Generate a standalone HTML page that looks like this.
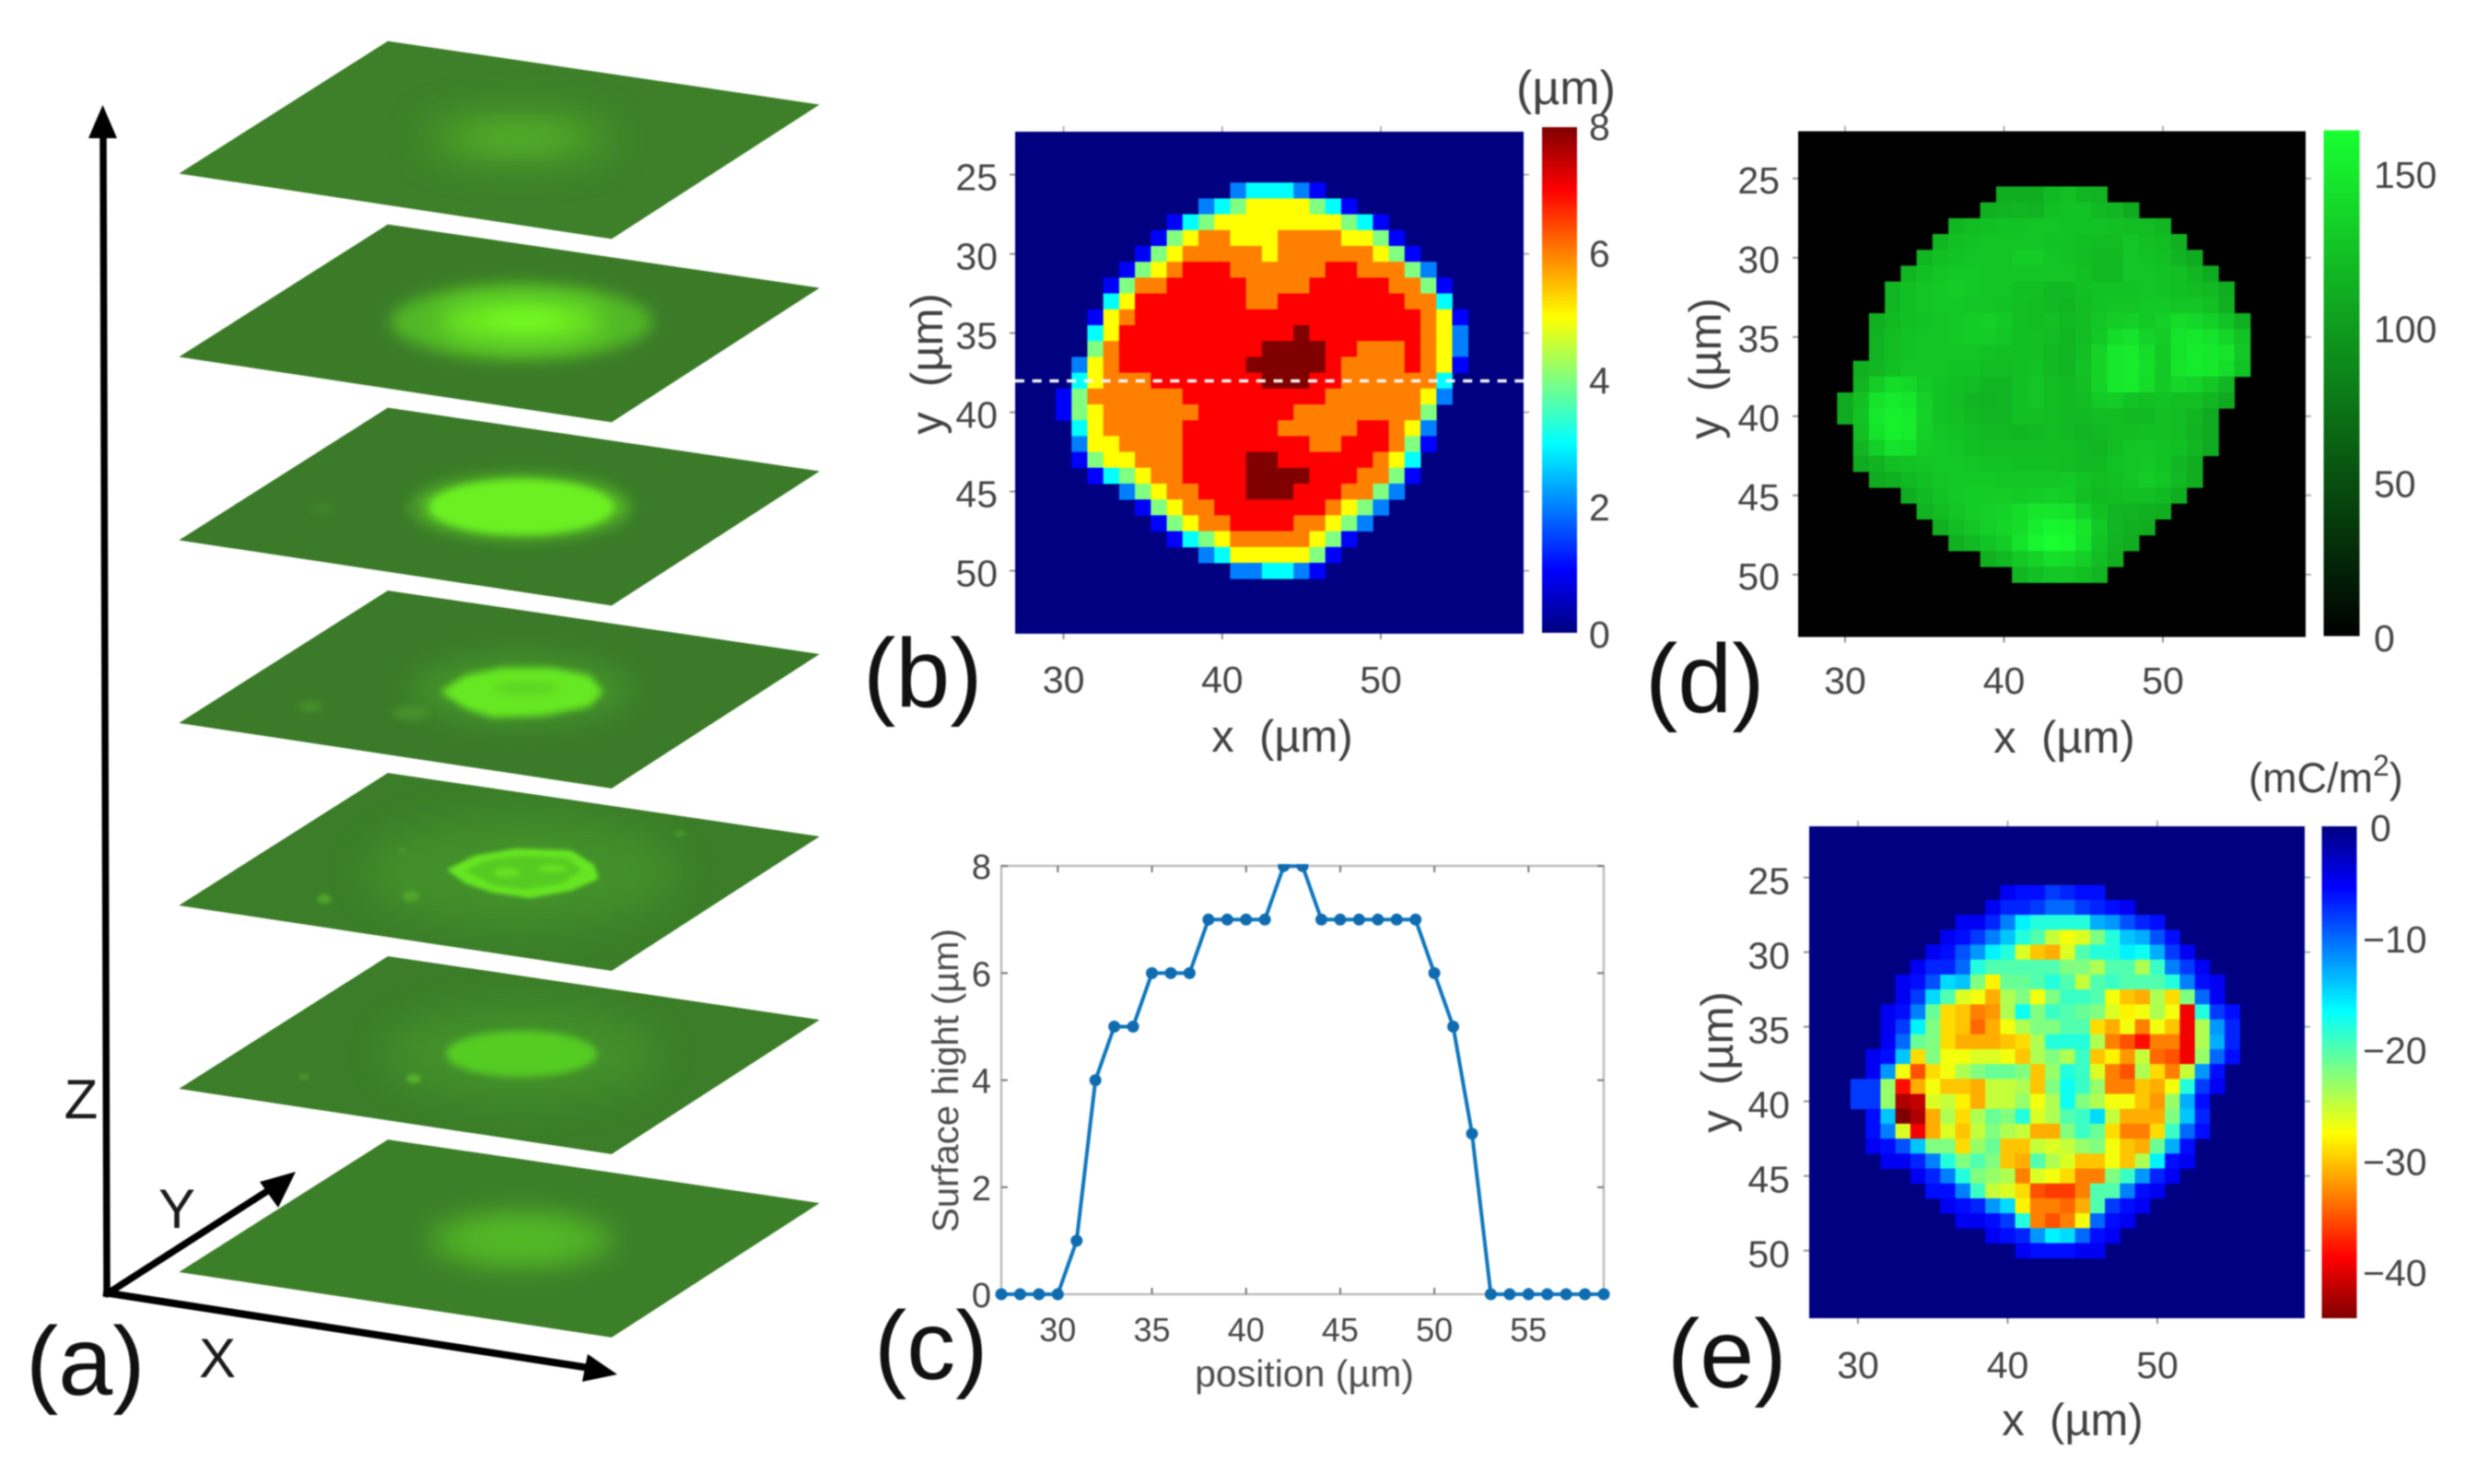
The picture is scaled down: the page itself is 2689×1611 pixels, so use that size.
<!DOCTYPE html>
<html lang="en">
<head>
<meta charset="utf-8">
<title>Surface height and charge density maps</title>
<style>
html,body{margin:0;padding:0;background:#fff;width:2689px;height:1611px;overflow:hidden}
svg{display:block;filter:blur(0.8px)}
text{font-family:"Liberation Sans",sans-serif}
.big{font-size:106px;fill:#111}
.ax{font-size:49px;fill:#404040}
.axl{font-size:60px;fill:#1a1a1a}
</style>
</head>
<body>
<svg id="root" xmlns="http://www.w3.org/2000/svg" width="2689" height="1611" viewBox="0 0 2689 1611">
<defs>
<clipPath id="planeClip"><polygon points="421,0 890,69 664,215 194,144"/></clipPath>
<clipPath id="cPlotClip"><rect x="1070" y="938" width="690" height="490"/></clipPath>
<filter id="b2" x="-50%" y="-50%" width="200%" height="200%"><feGaussianBlur stdDeviation="2"/></filter>
<filter id="b4" x="-50%" y="-50%" width="200%" height="200%"><feGaussianBlur stdDeviation="4"/></filter>
<filter id="b8" x="-50%" y="-50%" width="200%" height="200%"><feGaussianBlur stdDeviation="8"/></filter>
<filter id="b14" x="-60%" y="-80%" width="220%" height="260%"><feGaussianBlur stdDeviation="14"/></filter>
<filter id="b20" x="-60%" y="-100%" width="220%" height="300%"><feGaussianBlur stdDeviation="20"/></filter>
</defs>
<rect x="0" y="0" width="2689" height="1611" fill="#ffffff"/>

<g id="panel-a">
  <g transform="translate(0,44.5)" clip-path="url(#planeClip)">
    <polygon points="421,0 890,69 664,215 194,144" fill="#3d8029"/>
    <ellipse cx="563" cy="105" rx="100" ry="26" fill="#4ca527" filter="url(#b20)"/>
    <ellipse cx="563" cy="105" rx="55" ry="10" fill="#55b029" filter="url(#b14)"/>
  </g>
  <g transform="translate(0,243.5)" clip-path="url(#planeClip)">
    <polygon points="421,0 890,69 664,215 194,144" fill="#3b7b28"/>
    <ellipse cx="566" cy="106" rx="142" ry="41" fill="#51b726" filter="url(#b8)"/>
    <ellipse cx="566" cy="105" rx="88" ry="24" fill="#6eee22" filter="url(#b14)"/>
    <ellipse cx="570" cy="104" rx="40" ry="10" fill="#72f820" filter="url(#b8)"/>
  </g>
  <g transform="translate(0,442.5)" clip-path="url(#planeClip)">
    <polygon points="421,0 890,69 664,215 194,144" fill="#3a7a28"/>
    <ellipse cx="566" cy="108" rx="118" ry="35" fill="#52b825" filter="url(#b8)"/>
    <ellipse cx="566" cy="108" rx="100" ry="30" fill="#6cf020" filter="url(#b4)"/>
    <ellipse cx="448" cy="110" rx="10" ry="5" fill="#468f2c" filter="url(#b4)"/>
    <ellipse cx="350" cy="110" rx="14" ry="5" fill="#40842a" filter="url(#b4)"/>
  </g>
  <g transform="translate(0,641)" clip-path="url(#planeClip)">
    <polygon points="421,0 890,69 664,215 194,144" fill="#3a7a28"/>
    <ellipse cx="566" cy="108" rx="120" ry="40" fill="#42902a" filter="url(#b14)"/>
    <polygon points="478,110 505,92 545,84 600,84 640,92 655,110 640,126 590,136 535,138 505,128" fill="#66e822" filter="url(#b4)"/>
    <ellipse cx="572" cy="106" rx="36" ry="8" fill="#5ed823" filter="url(#b4)"/>
    <ellipse cx="337" cy="126" rx="14" ry="5" fill="#46912c" filter="url(#b4)"/>
    <ellipse cx="446" cy="133" rx="20" ry="8" fill="#46912c" filter="url(#b4)"/>
  </g>
  <g transform="translate(0,839)" clip-path="url(#planeClip)">
    <polygon points="421,0 890,69 664,215 194,144" fill="#3b7d28"/>
    <ellipse cx="566" cy="108" rx="170" ry="60" fill="#429029" filter="url(#b20)"/>
    <polygon points="485,105 515,90 560,82 620,84 645,100 650,115 620,128 575,136 535,130 505,120" fill="#66e622" filter="url(#b2)"/>
    <polygon points="505,106 530,94 565,90 615,92 632,106 610,120 570,127 535,122" fill="#56cc24" filter="url(#b2)"/>
    <ellipse cx="550" cy="108" rx="14" ry="5" fill="#66e022" filter="url(#b2)"/>
    <ellipse cx="600" cy="104" rx="16" ry="4" fill="#66e022" filter="url(#b2)"/>
    <ellipse cx="352" cy="137" rx="8" ry="5" fill="#50a62c" filter="url(#b2)"/>
    <ellipse cx="446" cy="134" rx="9" ry="6" fill="#50a62c" filter="url(#b2)"/>
    <ellipse cx="437" cy="84" rx="5" ry="3" fill="#469a2c" filter="url(#b2)"/>
    <ellipse cx="738" cy="66" rx="6" ry="3" fill="#469a2c" filter="url(#b2)"/>
  </g>
  <g transform="translate(0,1038)" clip-path="url(#planeClip)">
    <polygon points="421,0 890,69 664,215 194,144" fill="#3b7d28"/>
    <ellipse cx="566" cy="106" rx="150" ry="52" fill="#42902a" filter="url(#b20)"/>
    <ellipse cx="566" cy="106" rx="82" ry="25" fill="#55cc24" filter="url(#b4)"/>
    <ellipse cx="449" cy="133" rx="8" ry="5" fill="#55b02c" filter="url(#b2)"/>
    <ellipse cx="330" cy="131" rx="6" ry="3" fill="#4c9d2c" filter="url(#b2)"/>
  </g>
  <g transform="translate(0,1237)" clip-path="url(#planeClip)">
    <polygon points="421,0 890,69 664,215 194,144" fill="#3c7f29"/>
    <ellipse cx="566" cy="109" rx="100" ry="30" fill="#4fb028" filter="url(#b14)"/>
    <ellipse cx="566" cy="108" rx="60" ry="14" fill="#52bb26" filter="url(#b14)"/>
  </g>
  <g>
    <line x1="116" y1="1408" x2="112" y2="146" stroke="#000" stroke-width="7.5"/>
    <polygon points="111.5,114 96,150 127,150" fill="#000"/>
    <line x1="114" y1="1406" x2="298" y2="1288" stroke="#000" stroke-width="7.5"/>
    <polygon points="321,1272 282,1283 302,1311" fill="#000"/>
    <line x1="112" y1="1403" x2="640" y2="1485" stroke="#000" stroke-width="8"/>
    <polygon points="670,1492 638,1470 632,1500" fill="#000"/>
  </g>
  <text class="axl" x="88" y="1214" text-anchor="middle">Z</text>
  <text class="axl" x="192" y="1333" text-anchor="middle">Y</text>
  <text class="axl" x="236" y="1495" text-anchor="middle">X</text>
  <text class="big" x="28" y="1514">(a)</text>
</g>

<g id="panel-b"></g>
<g id="panel-c"></g>
<g id="panel-d"></g>
<g id="panel-e"></g>

<text class="big" x="937" y="767">(b)</text>
<text class="big" x="949" y="1497">(c)</text>
<text class="big" x="1786" y="773">(d)</text>
<text class="big" x="1810" y="1506">(e)</text>

<text class="ax" x="1392" y="816" text-anchor="middle" xml:space="preserve">x  (µm)</text>
<text class="ax" transform="translate(1023,395) rotate(-90)" text-anchor="middle" xml:space="preserve">y  (µm)</text>
<text class="ax" style="font-size:52px" x="1700" y="113" text-anchor="middle">(µm)</text>

<text class="ax" style="font-size:41px;fill:#4c4c4c" x="1416" y="1505" text-anchor="middle">position (µm)</text>
<text class="ax" style="font-size:40px;fill:#4c4c4c" transform="translate(1040,1173) rotate(-90)" text-anchor="middle">Surface hight (µm)</text>

<text class="ax" x="2241" y="817" text-anchor="middle" xml:space="preserve">x  (µm)</text>
<text class="ax" transform="translate(1868,400) rotate(-90)" text-anchor="middle" xml:space="preserve">y  (µm)</text>

<text class="ax" x="2250" y="1558" text-anchor="middle" xml:space="preserve">x  (µm)</text>
<text class="ax" transform="translate(1881,1153) rotate(-90)" text-anchor="middle" xml:space="preserve">y  (µm)</text>
<text class="ax" style="font-size:45px" x="2441" y="860">(mC/m<tspan dy="-18" style="font-size:32px">2</tspan><tspan dy="18">)</tspan></text>
</svg>

<script>
// Panel (b): surface height in µm, one row per y from 26 to 50.
const bFirstY = 26;
const bRowStartX = [41,39,37,36,35,34,33,33,32,32,32,31,31,30,30,31,31,31,32,34,35,36,37,39,41];
const bValues = [
[2,3,3,3,2,1],
[2,3,4,5,5,5,5,4,3,1],
[1,3,4,5,5,5,5,5,5,5,5,4,3,1],
[1,4,5,6,6,5,5,5,6,6,6,6,5,5,4,1],
[1,4,5,6,6,6,6,6,5,6,6,6,6,6,6,5,4,1],
[1,4,5,6,7,7,7,6,6,6,6,6,6,7,7,6,6,6,4,2],
[1,4,6,6,7,7,7,7,7,6,6,6,6,7,7,7,7,7,6,6,4,1],
[3,5,7,7,7,7,7,7,7,6,6,7,7,7,7,7,7,7,7,6,6,3],
[1,5,6,7,7,7,7,7,7,7,7,7,7,7,7,7,7,7,7,7,7,6,5,1],
[3,5,7,7,7,7,7,7,7,7,7,7,7,8,7,7,7,7,7,7,7,6,5,2],
[4,6,7,7,7,7,7,7,7,7,7,8,8,8,8,7,7,6,6,6,7,6,5,2],
[2,5,6,7,7,7,7,7,7,7,7,8,8,8,8,8,7,6,6,6,6,7,6,5,1],
[3,5,6,6,6,7,7,7,7,7,7,7,8,8,8,7,7,6,6,6,6,6,6,3],
[1,4,6,6,6,6,6,6,7,7,7,7,7,7,7,7,7,6,6,6,6,6,6,5,2],
[1,4,5,6,6,6,6,6,6,7,7,7,7,7,7,6,6,6,6,6,6,6,6,4],
[3,5,6,6,6,6,6,7,7,7,7,7,7,6,6,6,6,6,7,7,6,5,2],
[2,5,5,6,6,6,6,7,7,7,7,7,7,7,7,6,6,7,7,7,6,4,1],
[1,4,5,5,6,6,6,7,7,7,7,8,8,7,7,7,7,7,7,6,5,3],
[1,3,4,5,6,6,7,7,7,7,8,8,8,8,7,7,7,6,6,4,1],
[2,4,5,6,6,7,7,7,8,8,8,7,7,7,6,6,4,2],
[1,4,5,6,6,7,7,7,7,7,7,7,6,5,4,2],
[1,4,5,6,6,7,7,7,7,6,6,5,4,2],
[1,3,4,5,6,6,6,6,6,5,4,1],
[2,3,5,5,5,5,5,4,1],
[2,2,3,3,2,1]
];
const bXTicks = [30,40,50];
const bYTicks = [25,30,35,40,45,50];
const bBarTicks = [0,2,4,6,8];

// Panel (c): height profile across the dashed line.
const cPositions = [27,28,29,30,31,32,33,34,35,36,37,38,39,40,41,42,43,44,45,46,47,48,49,50,51,52,53,54,55,56,57,58,59];
const cHeights = [0,0,0,0,1,4,5,5,6,6,6,7,7,7,7,8,8,7,7,7,7,7,7,6,5,3,0,0,0,0,0,0,0];
const cXTicks = [30,35,40,45,50,55];
const cYTicks = [0,2,4,6,8];

// Panel (d): fluorescence intensity.
const dFirstY = 26;
const dRowStartX = [40,39,37,36,35,34,33,33,32,32,32,31,31,30,30,31,31,31,32,34,35,36,37,39,41];
const dValues = [
[112,112,112,120,124,118,116],
[114,116,118,116,124,126,126,120,118,110],
[118,122,124,126,126,128,128,126,126,126,124,122,122,118],
[118,124,126,128,128,128,128,126,126,124,122,122,128,124,122,114],
[118,124,126,128,128,128,132,132,128,126,122,120,120,128,126,124,116,110],
[118,124,128,130,130,128,128,128,128,128,128,124,120,120,128,128,126,124,118,110],
[118,124,128,130,132,130,128,128,124,124,120,120,124,126,126,126,128,126,124,122,120,112],
[118,124,128,130,130,128,128,126,124,122,120,118,122,126,128,128,130,130,128,128,124,114],
[114,120,124,126,128,130,132,134,130,124,122,124,120,122,128,132,134,130,134,142,140,134,126,114],
[116,122,126,128,128,130,132,132,128,124,124,122,118,122,130,142,146,136,132,146,150,146,138,126],
[116,122,126,128,128,128,128,126,124,124,124,120,118,124,136,150,152,142,130,146,152,150,148,128],
[114,118,124,128,128,128,126,126,122,122,124,126,120,118,126,136,150,152,144,130,148,152,150,142,126],
[118,132,142,140,130,126,124,122,118,118,124,128,122,120,124,136,150,152,142,130,138,136,128,118],
[110,124,146,152,148,134,126,122,118,116,118,124,128,122,120,122,130,132,126,124,126,124,124,118,110],
[110,126,150,156,152,136,126,124,120,118,118,124,124,122,120,120,122,122,120,120,124,122,118,110],
[124,146,156,152,134,128,126,122,120,120,118,120,122,120,118,120,122,122,124,124,122,116,110],
[118,134,146,144,132,130,128,124,122,122,122,122,122,122,120,118,122,128,128,126,124,118,110],
[110,116,124,126,128,130,130,128,126,126,124,124,124,122,120,120,126,128,130,126,118,112],
[110,114,120,124,128,130,130,130,128,128,128,128,130,126,122,124,128,132,128,120,112],
[112,120,126,130,132,132,132,130,132,134,132,124,120,122,124,124,120,112],
[116,122,128,132,134,136,142,148,148,146,134,124,118,116,114,112],
[114,122,128,134,138,142,154,160,158,148,130,118,114,112],
[114,120,126,132,146,160,165,162,146,126,116,112],
[114,120,130,136,144,142,134,122,114],
[118,124,128,128,124,118]
];
const dXTicks = [30,40,50];
const dYTicks = [25,30,35,40,45,50];
const dBarTicks = [0,50,100,150];

// Panel (e): charge density magnitude in mC/m2.
const eFirstY = 26;
const eRowStartX = [40,39,37,36,35,34,33,33,32,32,32,31,31,30,30,31,31,31,32,34,35,36,37,39,41];
const eValues = [
[5,6,6,8,7,6,6],
[5,7,7,8,10,10,8,7,6,5],
[5,5,7,11,16,18,18,18,18,13,12,9,7,6],
[5,6,8,11,14,18,20,25,27,26,22,18,14,13,9,6],
[5,6,9,12,16,18,26,30,31,26,20,18,18,16,17,13,8,5],
[5,7,7,10,18,20,20,20,20,20,22,22,24,20,20,24,19,11,8,5],
[5,6,9,15,14,22,28,21,21,20,18,20,25,20,19,20,20,20,18,11,6,5],
[5,8,15,20,26,27,31,24,22,27,22,19,19,20,27,30,31,24,29,22,10,5],
[5,6,11,21,29,30,33,32,24,17,22,19,20,21,22,26,28,27,24,27,39,18,8,6],
[5,8,16,22,29,30,34,31,27,24,22,22,20,20,29,31,27,33,27,30,39,24,12,7],
[5,10,21,22,29,31,31,31,30,29,24,18,18,18,24,33,35,38,33,33,39,24,13,7],
[5,6,14,29,22,27,27,26,26,27,30,24,22,24,19,30,28,32,25,34,35,39,23,10,6],
[5,12,27,35,29,27,24,22,21,21,22,30,23,18,19,26,33,35,24,29,33,25,12,6],
[8,8,23,38,31,27,30,30,31,25,25,24,30,22,17,19,23,33,33,30,31,27,18,8,5],
[8,8,23,42,41,26,25,28,31,25,25,23,27,24,17,22,24,27,27,30,32,23,13,6],
[6,14,44,42,31,24,29,24,21,22,18,26,24,20,19,15,25,31,31,31,22,14,7],
[6,11,26,39,31,26,30,25,22,24,25,31,31,22,19,21,29,33,33,29,19,10,6],
[5,6,9,14,22,22,29,23,21,30,30,25,26,25,23,22,27,30,31,21,13,6],
[5,5,7,11,18,22,20,22,30,31,20,24,26,30,30,27,30,24,16,6,5],
[5,7,11,18,22,23,24,33,26,27,29,33,33,22,19,12,7,5],
[6,6,11,19,25,26,29,35,36,36,33,20,20,11,6,5],
[5,6,7,12,15,28,33,33,34,31,20,8,6,5],
[5,5,6,8,18,33,35,33,27,10,6,5],
[5,6,7,12,16,15,10,6,5],
[5,6,6,6,5,5]
];
const eXTicks = [30,40,50];
const eYTicks = [25,30,35,40,45,50];
const eBarTicks = [0,10,20,30,40];

const NS = 'http://www.w3.org/2000/svg';
const root = document.getElementById('root');
const defs = root.querySelector('defs');

function clamp01(v){ return Math.max(0, Math.min(1, v)); }
function jet(t){
  const r = clamp01(Math.min(4*t-1.5, -4*t+4.5));
  const g = clamp01(Math.min(4*t-0.5, -4*t+3.5));
  const b = clamp01(Math.min(4*t+0.5, -4*t+2.5));
  return 'rgb(' + Math.round(r*255) + ',' + Math.round(g*255) + ',' + Math.round(b*255) + ')';
}
function greenMap(t){
  const g = clamp01(t);
  return 'rgb(' + Math.round(g*24) + ',' + Math.round(g*255) + ',' + Math.round(g*48) + ')';
}
function makeScale(refValue, refPixel, pixelsPerUnit){
  return function(v){ return refPixel + (v - refValue) * pixelsPerUnit; };
}
function addRect(parent, x, y, w, h, fill, name){
  const el = document.createElementNS(NS, 'rect');
  el.setAttribute('x', x);
  el.setAttribute('y', y);
  el.setAttribute('width', w);
  el.setAttribute('height', h);
  el.setAttribute('fill', fill);
  
  
  parent.appendChild(el);
  return el;
}
function addLine(parent, x1, y1, x2, y2, stroke, width, name){
  const el = document.createElementNS(NS, 'line');
  el.setAttribute('x1', x1);
  el.setAttribute('y1', y1);
  el.setAttribute('x2', x2);
  el.setAttribute('y2', y2);
  el.setAttribute('stroke', stroke);
  el.setAttribute('stroke-width', width);
  
  
  parent.appendChild(el);
  return el;
}
function addText(parent, str, x, y, size, anchor, name){
  const el = document.createElementNS(NS, 'text');
  el.setAttribute('x', x);
  el.setAttribute('y', y);
  el.setAttribute('text-anchor', anchor);
  el.setAttribute('fill', '#444444');
  el.style.fontSize = size + 'px';
  el.textContent = str;
  
  
  parent.appendChild(el);
  return el;
}
function drawCells(parent, firstY, rowStartX, values, colorOf, sx, sy, pitchX, pitchY){
  values.forEach(function(row, r){
    row.forEach(function(v, c){
      const xv = rowStartX[r] + c;
      const yv = firstY + r;
      addRect(parent, sx(xv) - pitchX/2, sy(yv) - pitchY/2, pitchX + 0.4, pitchY + 0.4, colorOf(v), 'heatmap-cell');
    });
  });
}
function drawHeatAxes(parent, box, sx, sy, xTicks, yTicks, xLabelBase, yLabelRight, yLabelShift, tickFont){
  xTicks.forEach(function(t){
    addLine(parent, sx(t), box.top - 6, sx(t), box.top, '#b0b0b0', 2, 'x-tick-top');
    addLine(parent, sx(t), box.bottom, sx(t), box.bottom + 6, '#909090', 2, 'x-tick-bottom');
    addText(parent, String(t), sx(t), xLabelBase, tickFont, 'middle', 'x-tick-label');
  });
  yTicks.forEach(function(t){
    addLine(parent, box.left - 6, sy(t), box.left, sy(t), '#909090', 2, 'y-tick-left');
    addLine(parent, box.right, sy(t), box.right + 6, sy(t), '#b0b0b0', 2, 'y-tick-right');
    addText(parent, String(t), yLabelRight, sy(t) + yLabelShift, tickFont, 'end', 'y-tick-label');
  });
}
function drawColorbar(parent, id, x, top, w, h, colorAtFraction){
  const grad = document.createElementNS(NS, 'linearGradient');
  grad.setAttribute('id', id);
  grad.setAttribute('x1', '0');
  grad.setAttribute('y1', '0');
  grad.setAttribute('x2', '0');
  grad.setAttribute('y2', '1');
  for (let i = 0; i <= 32; i++) {
    const stop = document.createElementNS(NS, 'stop');
    stop.setAttribute('offset', i/32);
    stop.setAttribute('stop-color', colorAtFraction(i/32));
    grad.appendChild(stop);
  }
  defs.appendChild(grad);
  addRect(parent, x, top, w, h, 'url(#' + id + ')', 'colorbar');
}

// ---------- Panel b ----------
(function(){
  const g = document.getElementById('panel-b');
  const box = {left:1102, right:1654, top:143, bottom:688};
  const sx = makeScale(30, 1154.6, 17.22);
  const sy = makeScale(25, 189.6, 17.2);
  const vMax = 8;
  const colorOf = function(v){ return jet(v/vMax); };
  addRect(g, box.left, box.top, box.right-box.left, box.bottom-box.top, colorOf(0), 'b-map-background');
  drawCells(g, bFirstY, bRowStartX, bValues, colorOf, sx, sy, 17.22, 17.2);
  const dash = addLine(g, box.left, 413.5, box.right, 413.5, '#f2f2f2', 3.5, 'b-profile-line');
  dash.setAttribute('stroke-dasharray', '10 8.7');
  drawHeatAxes(g, box, sx, sy, bXTicks, bYTicks, 752, 1083, 17, 41);
  const barTop = 138, barH = 549;
  drawColorbar(g, 'barB', 1674, barTop, 38, barH, function(f){ return jet(1-f); });
  const sBar = makeScale(0, 689, -68.9);
  bBarTicks.forEach(function(t){
    addText(g, String(t), 1725, sBar(t) + 14, 41, 'start', 'b-colorbar-label');
  });
})();

// ---------- Panel c ----------
(function(){
  const g = document.getElementById('panel-c');
  const box = {left:1087, right:1741, top:940, bottom:1405};
  const sx = makeScale(27, 1087, 20.44);
  const sy = makeScale(0, 1405, -58.1);
  const frame = addRect(g, box.left, box.top, box.right-box.left, box.bottom-box.top, '#ffffff', 'c-plot-frame');
  frame.setAttribute('stroke', '#bdbdbd');
  frame.setAttribute('stroke-width', '2.5');
  cXTicks.forEach(function(t){
    addLine(g, sx(t), box.bottom, sx(t), box.bottom - 7, '#777777', 2, 'c-x-tick');
    addLine(g, sx(t), box.top, sx(t), box.top + 7, '#777777', 2, 'c-x-tick-top');
    addText(g, String(t), sx(t), 1456, 36, 'middle', 'c-x-tick-label');
  });
  cYTicks.forEach(function(t){
    addLine(g, box.left, sy(t), box.left + 7, sy(t), '#777777', 2, 'c-y-tick');
    addLine(g, box.right, sy(t), box.right - 7, sy(t), '#777777', 2, 'c-y-tick-right');
    addText(g, String(t), 1076, sy(t) + 14, 38, 'end', 'c-y-tick-label');
  });
  const series = document.createElementNS(NS, 'g');
  series.setAttribute('clip-path', 'url(#cPlotClip)');
  
  
  g.appendChild(series);
  const line = document.createElementNS(NS, 'polyline');
  line.setAttribute('points', cPositions.map(function(p, i){ return sx(p) + ',' + sy(cHeights[i]); }).join(' '));
  line.setAttribute('fill', 'none');
  line.setAttribute('stroke', '#0f76bd');
  line.setAttribute('stroke-width', '4');
  
  
  series.appendChild(line);
  cPositions.forEach(function(p, i){
    const pt = document.createElementNS(NS, 'circle');
    pt.setAttribute('cx', sx(p));
    pt.setAttribute('cy', sy(cHeights[i]));
    pt.setAttribute('r', '6.5');
    pt.setAttribute('fill', '#0f6cb0');
    
    
    series.appendChild(pt);
  });
})();

// ---------- Panel d ----------
(function(){
  const g = document.getElementById('panel-d');
  const box = {left:1952, right:2503, top:142.5, bottom:691.5};
  const sx = makeScale(30, 2003, 17.25);
  const sy = makeScale(25, 193.8, 17.2);
  const vMax = 165;
  const colorOf = function(v){ return greenMap(v/vMax); };
  addRect(g, box.left, box.top, box.right-box.left, box.bottom-box.top, colorOf(0), 'd-map-background');
  drawCells(g, dFirstY, dRowStartX, dValues, colorOf, sx, sy, 17.25, 17.2);
  drawHeatAxes(g, box, sx, sy, dXTicks, dYTicks, 753, 1932, 16, 41);
  drawColorbar(g, 'barD', 2522.5, 141.5, 39, 549, function(f){ return greenMap(1-f); });
  const sBar = makeScale(0, 693, -3.353);
  dBarTicks.forEach(function(t){
    addText(g, String(t), 2577, sBar(t) + 14, 41, 'start', 'd-colorbar-label');
  });
})();

// ---------- Panel e ----------
(function(){
  const g = document.getElementById('panel-e');
  const box = {left:1964, right:2502, top:897, bottom:1431};
  const sx = makeScale(30, 2017, 16.25);
  const sy = makeScale(25, 952.6, 16.2);
  const vMax = 44;
  const colorOf = function(v){ return jet(v/vMax); };
  addRect(g, box.left, box.top, box.right-box.left, box.bottom-box.top, colorOf(0), 'e-map-background');
  drawCells(g, eFirstY, eRowStartX, eValues, colorOf, sx, sy, 16.25, 16.2);
  drawHeatAxes(g, box, sx, sy, eXTicks, eYTicks, 1496, 1943, 18, 41);
  drawColorbar(g, 'barE', 2520.5, 897, 38, 534, function(f){ return jet(f); });
  const sBar = makeScale(0, 899, 12.08);
  eBarTicks.forEach(function(t){
    const label = t === 0 ? '0' : '\u2212' + t;
    addText(g, label, t === 0 ? 2573 : 2565, sBar(t) + 14, 41, 'start', 'e-colorbar-label');
  });
})();
</script>
</body>
</html>
